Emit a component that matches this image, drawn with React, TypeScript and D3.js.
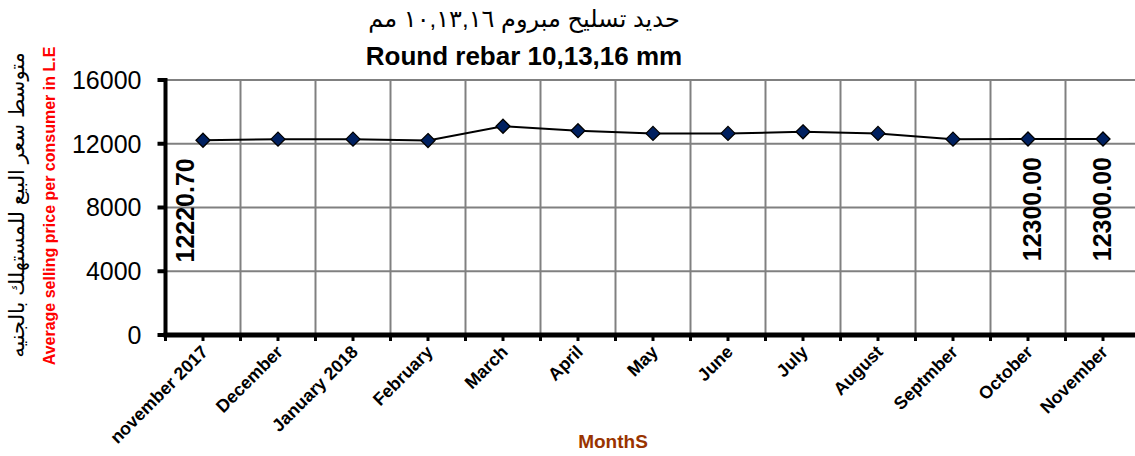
import React, { useEffect, useRef } from 'react';
import * as d3 from 'd3';

const months = [
  'november 2017', 'December', 'January 2018', 'February', 'March', 'April',
  'May', 'June', 'July', 'August', 'Septmber', 'October', 'November'
];
const prices = [12220.7, 12290, 12290, 12200, 13100, 12820, 12650, 12650, 12750, 12650, 12290, 12300, 12300];
const labelled = [0, 11, 12];
const yTicks = [0, 4000, 8000, 12000, 16000];

const titleAr = 'حديد تسليح مبروم ١٠,١٣,١٦ مم';
const titleEn = 'Round rebar 10,13,16 mm';
const yTitleAr = 'متوسط سعر البيع للمستهلك بالجنيه';
const yTitleEn = 'Average selling price per consumer in L.E';
const xTitle = 'MonthS';

const W = 1135, H = 456;
const FONT = '"Liberation Sans", Arial, "DejaVu Sans", sans-serif';

function draw(el) {
  const svg = d3.select(el);
  svg.selectAll('*').remove();

  const left = 165.5, top = 80, bottom = 335;
  const x = d3.scaleBand().domain(months).range([left, left + 75 * months.length]);
  const y = d3.scaleLinear().domain([0, 16000]).range([bottom, top]);
  const right = left + 75 * months.length;

  // grid
  svg.append('g')
    .selectAll('line.h')
    .data(yTicks.filter(d => d > 0))
    .join('line')
      .attr('x1', left).attr('x2', right)
      .attr('y1', d => y(d)).attr('y2', d => y(d))
      .attr('stroke', '#808080').attr('stroke-width', 2);

  svg.append('g')
    .selectAll('line')
    .data(months.slice(1))
    .join('line')
      .attr('x1', d => x(d)).attr('x2', d => x(d))
      .attr('y1', top).attr('y2', bottom)
      .attr('stroke', '#808080').attr('stroke-width', 2);

  // x axis ticks (boundaries + centers)
  const xt = [];
  months.forEach(m => { xt.push(x(m)); xt.push(x(m) + x.bandwidth() / 2); });
  svg.append('g')
    .selectAll('line')
    .data(xt)
    .join('line')
      .attr('x1', d => d).attr('x2', d => d)
      .attr('y1', bottom).attr('y2', bottom + 6)
      .attr('stroke', '#000').attr('stroke-width', 3);

  // axes
  svg.append('line')
    .attr('x1', left - 2).attr('x2', right)
    .attr('y1', bottom).attr('y2', bottom)
    .attr('stroke', '#000').attr('stroke-width', 5);
  svg.append('line')
    .attr('x1', left).attr('x2', left)
    .attr('y1', top - 2).attr('y2', bottom)
    .attr('stroke', '#000').attr('stroke-width', 4);

  const yAxis = svg.append('g').attr('font-family', FONT);
  yAxis.selectAll('line')
    .data(yTicks)
    .join('line')
      .attr('x1', left - 8).attr('x2', left)
      .attr('y1', d => y(d)).attr('y2', d => y(d))
      .attr('stroke', '#000').attr('stroke-width', 4);
  yAxis.selectAll('text')
    .data(yTicks)
    .join('text')
      .attr('x', left - 24)
      .attr('y', d => y(d))
      .attr('dy', '0.35em')
      .attr('text-anchor', 'end')
      .attr('font-size', 25)
      .text(d => d);

  // x tick labels
  svg.append('g')
    .attr('font-family', FONT)
    .attr('font-weight', 'bold')
    .attr('font-size', 17.8)
    .selectAll('text')
    .data(months)
    .join('text')
      .attr('text-anchor', 'end')
      .attr('transform', d => `translate(${x(d) + x.bandwidth() / 2 + 6},${bottom + 18}) rotate(-45)`)
      .text(d => d);

  // line + markers
  const cx = (d, i) => x(months[i]) + x.bandwidth() / 2;
  const line = d3.line().x(cx).y(d => y(d));
  svg.append('path')
    .attr('d', line(prices))
    .attr('fill', 'none')
    .attr('stroke', '#000')
    .attr('stroke-width', 2);

  svg.append('g')
    .selectAll('path')
    .data(prices)
    .join('path')
      .attr('d', 'M0,-7L7,0L0,7L-7,0Z')
      .attr('transform', (d, i) => `translate(${cx(d, i)},${y(d)})`)
      .attr('fill', '#002060')
      .attr('stroke', '#000')
      .attr('stroke-width', 1.3);

  // data labels
  const dx = { 0: -18, 11: 4, 12: -1 };
  svg.append('g')
    .attr('font-family', FONT)
    .attr('font-weight', 'bold')
    .attr('font-size', 25)
    .selectAll('text')
    .data(labelled)
    .join('text')
      .attr('text-anchor', 'end')
      .attr('transform', i => `translate(${cx(prices[i], i) + dx[i] + 9},${y(prices[i]) + 18}) rotate(-90)`)
      .text(i => prices[i].toFixed(2));

  // titles
  svg.append('text')
    .attr('x', 524).attr('y', 27)
    .attr('text-anchor', 'middle')
    .attr('direction', 'rtl')
    .attr('font-family', FONT)
    .attr('font-size', 24)
    .text(titleAr);
  svg.append('text')
    .attr('x', 524).attr('y', 65)
    .attr('text-anchor', 'middle')
    .attr('font-family', FONT)
    .attr('font-weight', 'bold')
    .attr('font-size', 26)
    .text(titleEn);

  svg.append('text')
    .attr('transform', `translate(24,205) rotate(-90)`)
    .attr('text-anchor', 'middle')
    .attr('direction', 'rtl')
    .attr('font-family', FONT)
    .attr('font-size', 21)
    .text(yTitleAr);
  svg.append('text')
    .attr('transform', `translate(55,206) rotate(-90)`)
    .attr('text-anchor', 'middle')
    .attr('font-family', FONT)
    .attr('font-weight', 'bold')
    .attr('font-size', 16)
    .attr('fill', '#ff0000')
    .text(yTitleEn);

  svg.append('text')
    .attr('x', 613).attr('y', 448)
    .attr('text-anchor', 'middle')
    .attr('font-family', FONT)
    .attr('font-weight', 'bold')
    .attr('font-size', 19)
    .attr('fill', '#993300')
    .text(xTitle);
}

export default function App() {
  const ref = useRef(null);
  useEffect(() => {
    draw(ref.current);
  }, []);
  return (
    <svg
      ref={ref}
      width={W}
      height={H}
      style={{ position: 'absolute', left: 0, top: 0, background: '#fff' }}
    />
  );
}
